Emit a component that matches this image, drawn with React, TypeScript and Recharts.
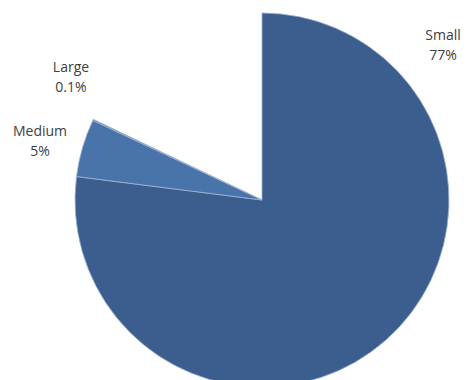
import { PieChart, Pie, Cell } from "recharts";

// share of each size class (percent of total) - the rest is unassigned and left blank
const categories = ["Small", "Medium", "Large"];
const shares = [77, 5, 0.1];
const colors = ["#3B5E8F", "#4874AA", "#5B87C0"];

// label anchor offsets relative to the pie centre (Excel best-fit placement)
const labelOffsets = [
  { dx: 181, dy: -160 },
  { dx: -222, dy: -64 },
  { dx: -191, dy: -128 },
];

const chartData = categories.map((name, i) => ({ name, value: shares[i] }));
const totalShown = shares.reduce((a, b) => a + b, 0);

const labelFont = "'Open Sans', Lato, sans-serif";

const renderLabel = (props: any) => {
  const { cx, cy, index, name, value } = props;
  const off = labelOffsets[index];
  const x = cx + off.dx;
  const y = cy + off.dy;
  return (
    <g>
      <text x={x} y={y} textAnchor="middle" fill="#404040" fontSize={14} fontFamily={labelFont}>
        {name}
      </text>
      <text x={x} y={y + 20} textAnchor="middle" fill="#404040" fontSize={14} fontFamily={labelFont}>
        {`${value}%`}
      </text>
    </g>
  );
};

const SizePie = () => {
  return (
    <div style={{ position: "absolute", left: 0, top: 0, background: "#fff" }}>
      <PieChart width={467} height={380} margin={{ top: 0, right: 0, bottom: 0, left: 0 }}>
        <Pie
          data={chartData}
          dataKey="value"
          nameKey="name"
          cx={262}
          cy={200}
          outerRadius={187}
          startAngle={90}
          endAngle={90 - (360 * totalShown) / 100}
          label={renderLabel}
          labelLine={false}
          stroke="#9fb4d3"
          strokeWidth={0.8}
          isAnimationActive={false}
        >
          {chartData.map((d, i) => (
            <Cell key={d.name} fill={colors[i]} />
          ))}
        </Pie>
      </PieChart>
    </div>
  );
};

export default function App() {
  return <SizePie />;
}
